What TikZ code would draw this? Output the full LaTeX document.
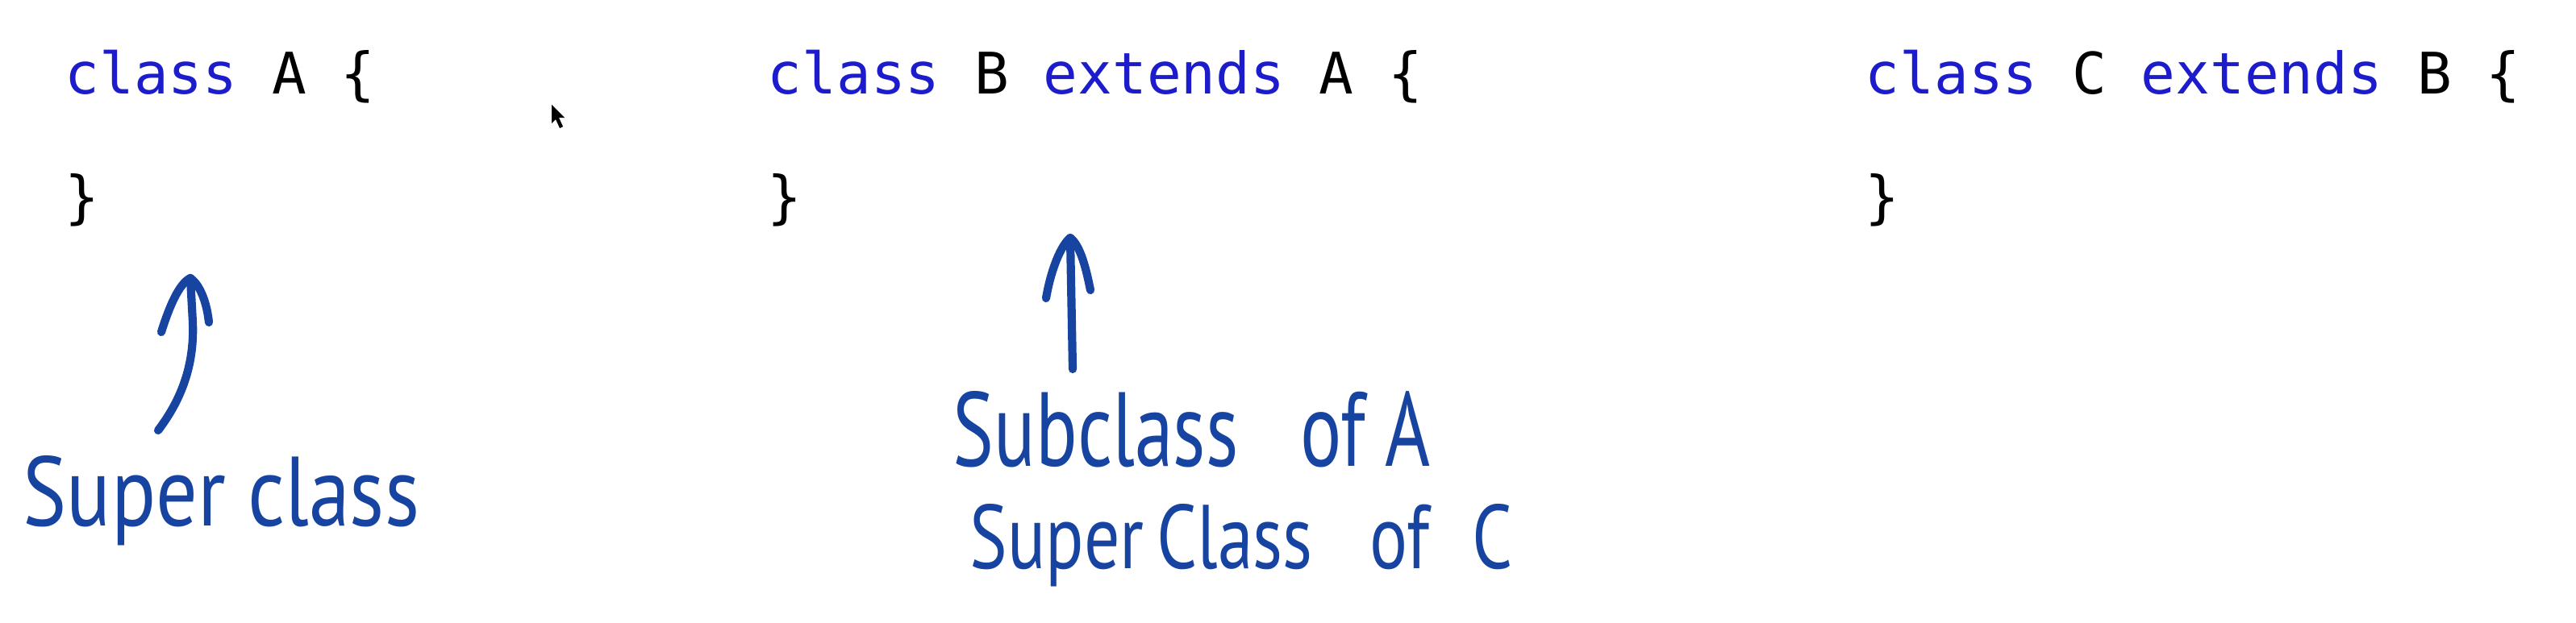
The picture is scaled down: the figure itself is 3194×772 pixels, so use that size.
\documentclass[tikz,border=0pt]{standalone}
\usepackage{fontspec}
\usepackage{graphicx}
\newfontfamily\codefont{DejaVu Sans Mono}
\newfontfamily\handfont{PT Sans}
\definecolor{kw}{RGB}{28,28,205}
\definecolor{ink}{RGB}{22,68,160}
\begin{document}
\begin{tikzpicture}[x=0.01cm,y=-0.01cm,
  code/.style={font=\codefont\fontsize{20.2pt}{24pt}\selectfont, inner sep=0pt, anchor=base west},
  hand/.style={text=ink, inner sep=0pt, anchor=base west},
  stroke/.style={draw=ink, line width=2.9pt, line cap=round, line join=round}]
\fill[white] (0,0) rectangle (3194,772);
\useasboundingbox (0,0) rectangle (3194,772);

% code
\node[code] (A1) at (80,116) {{\color{kw}class} A \{};
\node[code] (A2) at (80,269) {\}};
\node[code] (B1) at (951,116) {{\color{kw}class} B {\color{kw}extends} A \{};
\node[code] (B2) at (951,269) {\}};
\node[code] (C1) at (2312,116) {{\color{kw}class} C {\color{kw}extends} B \{};
\node[code] (C2) at (2312,269) {\}};

% mouse cursor
\fill[black] (684,130) -- (684,153) -- (689,148) -- (694,159) -- (698,157) -- (693,146) -- (700,146) -- cycle;

% handwritten labels
\node[hand] (sup) at (28,652) {\resizebox{4.91cm}{0.87cm}{\handfont Super class}};
\node[hand] (subA) at (1181,578) {\resizebox{5.91cm}{0.93cm}{\handfont Subclass\hspace{0.8em}of\hspace{0.25em}A}};
\node[hand] (supC) at (1202,705) {\resizebox{6.72cm}{0.80cm}{\handfont Super\hspace{0.18em}Class\hspace{0.8em}of\hspace{0.6em}C}};

% arrow 1
\coordinate (t1) at (196,534);
\coordinate (h1) at (236,345);
\draw[stroke] (t1) .. controls (228,492) and (241,448) .. (239,400) -- (h1);
\draw[stroke] (200,412) .. controls (210,380) and (222,352) .. (h1) .. controls (250,355) and (257,380) .. (259,400);

% arrow 2
\coordinate (t2) at (1330,458);
\coordinate (h2) at (1327,295);
\draw[stroke] (t2) -- (h2);
\draw[stroke] (1297,370) .. controls (1303,335) and (1315,305) .. (h2) .. controls (1340,305) and (1347,335) .. (1352,360);
\end{tikzpicture}
\end{document}
